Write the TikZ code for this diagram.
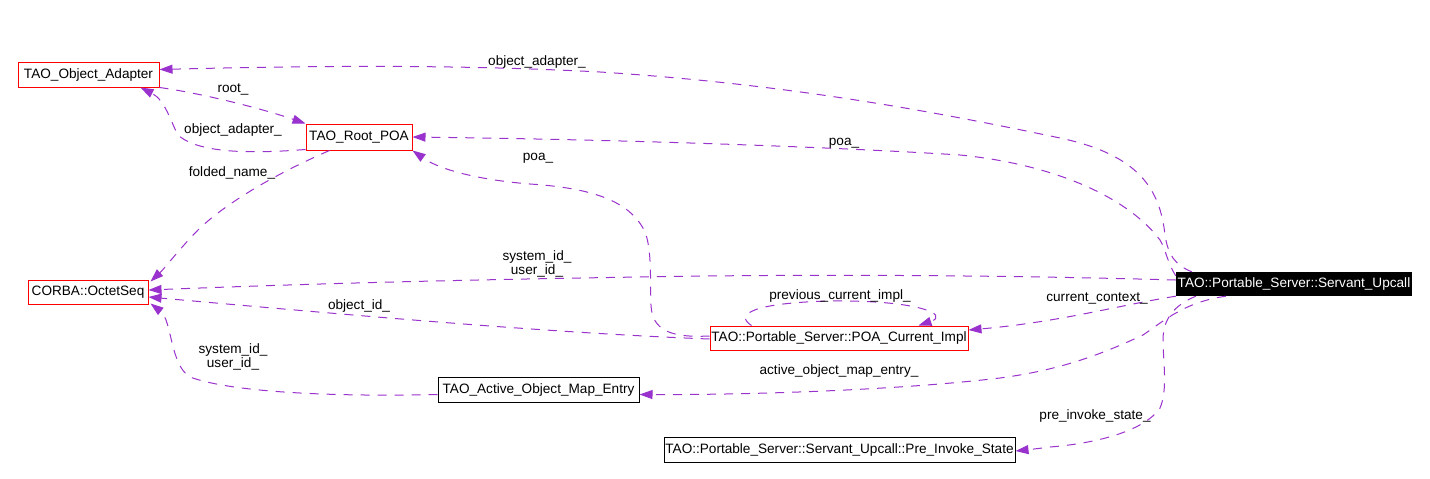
\documentclass[tikz,border=0pt]{standalone}
\usepackage{fontspec}
\setmainfont{Liberation Sans}
\usetikzlibrary{arrows.meta}
\definecolor{edgec}{HTML}{9A32CD}
\begin{document}
\begin{tikzpicture}[x=1pt,y=-1pt,
  every node/.style={font=\fontsize{13.6}{14}\selectfont},
  cls/.style={draw=red, line width=1pt, minimum height=25pt, inner sep=0pt},
  clsb/.style={draw=black, line width=1pt, minimum height=25pt, inner sep=0pt},
  rel/.style={draw=edgec, line width=1pt, dash pattern=on 9pt off 8pt, -{Triangle[length=13pt,width=9pt,fill=edgec]}},
  lbl/.style={align=center, inner sep=0pt}]
\fill[white] (0,0) rectangle (1430,479);
\useasboundingbox (0,0) rectangle (1430,479);

% classes
\node[cls, minimum width=141pt] (oa) at (88.5,74.5) {TAO\_Object\_Adapter};
\node[cls, minimum width=106pt, minimum height=26pt] (rp) at (359,137) {TAO\_Root\_POA};
\node[cls, minimum width=120pt, minimum height=24pt] (os) at (88,292) {CORBA::OctetSeq};
\node[cls, minimum width=258pt, minimum height=24pt] (pci) at (839,338) {TAO::Portable\_Server::POA\_Current\_Impl};
\node[clsb, minimum width=201pt] (aome) at (538.5,389.5) {TAO\_Active\_Object\_Map\_Entry};
\node[clsb, minimum width=351pt] (pis) at (839.5,449.5) {TAO::Portable\_Server::Servant\_Upcall::Pre\_Invoke\_State};
\node[fill=black, text=white, minimum width=236pt, minimum height=24pt, inner sep=0pt] (su) at (1294,284) {TAO::Portable\_Server::Servant\_Upcall};

% edges
\draw[rel] ([xshift=16pt]su.north west) .. controls (1175,265) and (1168,255) .. (1165,235)
  .. controls (1160,190) and (1140,155) .. (1060,138)
  .. controls (950,115) and (800,85) .. (600,72)
  .. controls (450,64) and (300,66) .. ([yshift=5pt]oa.east);

\draw[rel] ([yshift=-4pt]su.north west) .. controls (1167,262) and (1166,250) .. (1160,240)
  .. controls (1130,200) and (1060,165) .. (960,155)
  .. controls (850,148) and (650,140) .. (rp.east);

\draw[rel] ([yshift=2pt]pci.west) .. controls (670,338) and (652,330) .. (651,305)
  .. controls (650,280) and (652,250) .. (645,232)
  .. controls (630,200) and (590,188) .. (530,184)
  .. controls (480,180) and (440,170) .. (rp.south east);

\draw[rel] ([yshift=1pt]rp.south west) .. controls (260,153) and (200,155) .. (178,135)
  .. controls (170,120) and (165,100) .. ([xshift=-19pt]oa.south east);

\draw[rel] (oa.south east) .. controls (200,93) and (260,108) .. (rp.north west);

\draw[rel] ([xshift=24pt]rp.south west) .. controls (280,172) and (230,200) .. (200,228)
  .. controls (180,248) and (165,268) .. ([xshift=2pt,yshift=-2pt]os.north east);

\draw[rel] ([yshift=4pt]su.west) .. controls (1000,275) and (800,274) .. (640,277)
  .. controls (450,280) and (300,284) .. ([yshift=2pt]os.east);

\draw[rel] ([yshift=-1pt]pci.west) .. controls (550,333) and (350,315) .. ([yshift=-5pt]os.east);

\draw[rel] ([yshift=-5pt]aome.west) .. controls (330,397) and (230,392) .. (190,377)
  .. controls (170,365) and (172,320) .. ([xshift=2pt,yshift=1pt]os.south east);

\draw[rel] (su.south west) .. controls (1120,305) and (1060,322) .. ([yshift=8pt]pci.east);

\draw[rel] ([xshift=50pt]su.south west) .. controls (1185,302) and (1165,320) .. (1143,335)
  .. controls (1100,355) and (1060,370) .. (1000,378)
  .. controls (900,390) and (750,395) .. ([yshift=-5pt]aome.east);

\draw[rel] ([xshift=20pt]su.south west) .. controls (1175,305) and (1163,318) .. (1163,340)
  .. controls (1163,360) and (1168,390) .. (1160,408)
  .. controls (1145,430) and (1100,443) .. (1050,447)
  .. controls (1035,449) and (1025,450) .. ([yshift=-1.5pt]pis.east);

\draw[rel] ([xshift=42pt]pci.north west) .. controls (735,315) and (750,303) .. (830,301)
  .. controls (920,300) and (950,315) .. ([xshift=-50pt]pci.north east);

% labels
\node[lbl] (l1) at (537,62) {object\_adapter\_};
\node[lbl] (l2) at (233,89) {root\_};
\node[lbl] (l3) at (233,130) {object\_adapter\_};
\node[lbl] (l4) at (232,173) {folded\_name\_};
\node[lbl] (l5) at (844,143) {poa\_};
\node[lbl] (l6) at (538,158) {poa\_};
\node[lbl] (l7) at (537,264) {system\_id\_\\user\_id\_};
\node[lbl] (l8) at (840,296) {previous\_current\_impl\_};
\node[lbl] (l9) at (1097,298) {current\_context\_};
\node[lbl] (l10) at (359,306) {object\_id\_};
\node[lbl] (l11) at (233,357) {system\_id\_\\user\_id\_};
\node[lbl] (l12) at (839,371) {active\_object\_map\_entry\_};
\node[lbl] (l13) at (1095,416) {pre\_invoke\_state\_};
\end{tikzpicture}
\end{document}
